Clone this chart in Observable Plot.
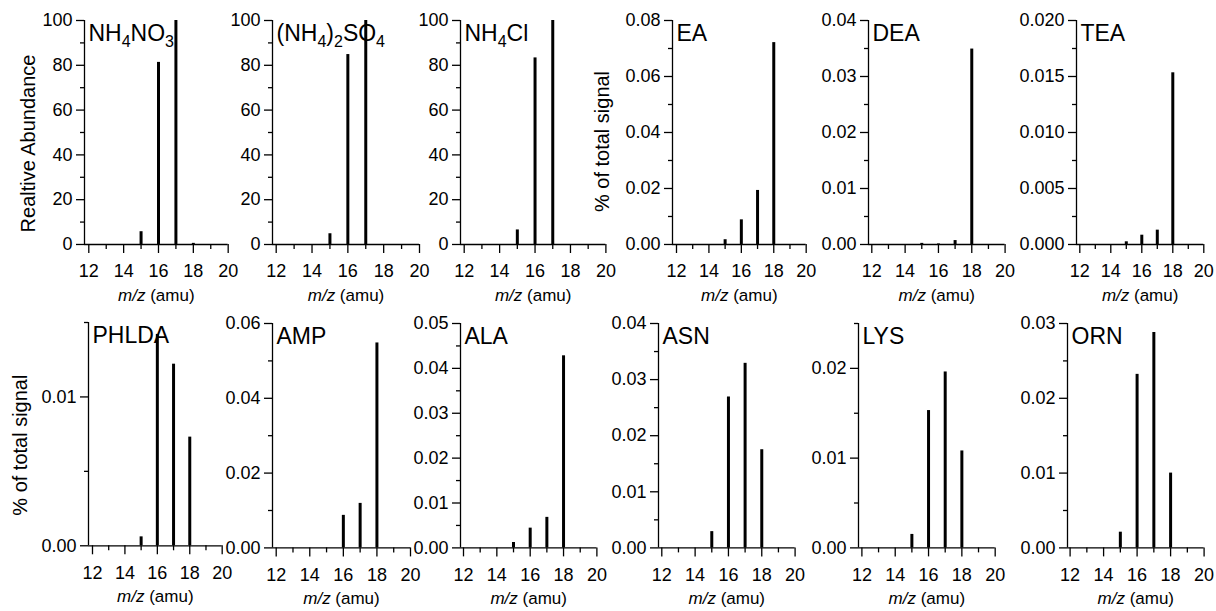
<!DOCTYPE html>
<html><head><meta charset="utf-8">
<script src="https://cdn.jsdelivr.net/npm/d3@7"></script>
<script src="https://cdn.jsdelivr.net/npm/@observablehq/plot@0.6"></script>
<style>
html,body{margin:0;padding:0;background:#fff;}
#chart{position:relative;width:1216px;height:611px;overflow:hidden;font-family:"Liberation Sans",Arial,sans-serif;}
#chart svg{position:absolute;}
</style></head><body><div id="chart"></div>
<script>
// ---- data ----
const mz = [15, 16, 17, 18];
const xTicks = [12, 14, 16, 18, 20];
const xMinorTicks = [13, 15, 17, 19];

const nh4no3 = [5.7, 81.3, 100, 0.5];
const nh42so4 = [4.8, 84.8, 100, 0];
const nh4cl = [6.5, 83.3, 100, 0];
const ea = [0.0017, 0.0088, 0.0193, 0.0721];
const dea = [0.0002, 0.0001, 0.0007, 0.0349];
const tea = [0.00024, 0.00083, 0.00128, 0.01533];
const phlda = [0.0006, 0.0142, 0.0122, 0.0073];
const amp = [0, 0.0087, 0.0119, 0.0548];
const ala = [0.0012, 0.0044, 0.0068, 0.0428];
const asn = [0.0029, 0.0269, 0.0329, 0.0175];
const lys = [0.0015, 0.0153, 0.0196, 0.0108];
const orn = [0.0021, 0.0232, 0.0288, 0.0100];

const titles = ["NH_4NO_3", "(NH_4)_2SO_4", "NH_4Cl", "EA", "DEA", "TEA",
                "PHLDA", "AMP", "ALA", "ASN", "LYS", "ORN"];
const seriesList = [nh4no3, nh42so4, nh4cl, ea, dea, tea, phlda, amp, ala, asn, lys, orn];
const yMax = [100, 100, 100, 0.08, 0.04, 0.02, 0.015, 0.06, 0.05, 0.04, 0.025, 0.03];
const yMajorTicks = [
  [0, 20, 40, 60, 80, 100], [0, 20, 40, 60, 80, 100], [0, 20, 40, 60, 80, 100],
  [0, 0.02, 0.04, 0.06, 0.08], [0, 0.01, 0.02, 0.03, 0.04], [0, 0.005, 0.01, 0.015, 0.02],
  [0, 0.01], [0, 0.02, 0.04, 0.06], [0, 0.01, 0.02, 0.03, 0.04, 0.05],
  [0, 0.01, 0.02, 0.03, 0.04], [0, 0.01, 0.02], [0, 0.01, 0.02, 0.03]
];
const yMinorTicks = [
  [10, 30, 50, 70, 90], [10, 30, 50, 70, 90], [10, 30, 50, 70, 90],
  [0.01, 0.03, 0.05, 0.07], [0.005, 0.015, 0.025, 0.035], [0.0025, 0.0075, 0.0125, 0.0175],
  [0.005, 0.015], [0.01, 0.03, 0.05], [0.005, 0.015, 0.025, 0.035, 0.045],
  [0.005, 0.015, 0.025, 0.035], [0.005, 0.015, 0.025], [0.005, 0.015, 0.025]
];
const yDecimals = [0, 0, 0, 2, 2, 3, 2, 2, 2, 2, 2, 2];
const yTitles = ["Realtive Abundance", null, null, "% of total signal", null, null,
                 "% of total signal", null, null, null, null, null];
const xTitle = "*m/z* (amu)";

// ---- layout (pixel positions of each panel frame) ----
const layout = [
  {axisX: 84, x12: 88.3, x20: 227.7, top: 20, bottom: 244},
  {axisX: 272, x12: 275.7, x20: 419, top: 20, bottom: 244},
  {axisX: 460.3, x12: 464, x20: 605.7, top: 20, bottom: 244},
  {axisX: 672, x12: 676, x20: 805.7, top: 20, bottom: 244},
  {axisX: 867.7, x12: 871, x20: 1004.3, top: 20, bottom: 244},
  {axisX: 1076, x12: 1079.3, x20: 1203.3, top: 20, bottom: 244},
  {axisX: 88, x12: 92, x20: 221.7, top: 321.7, bottom: 545},
  {axisX: 272, x12: 275.7, x20: 410, top: 323.3, bottom: 547.7},
  {axisX: 460.3, x12: 463.3, x20: 596.7, top: 323.3, bottom: 547.7},
  {axisX: 657.7, x12: 661, x20: 794.3, top: 323.3, bottom: 547.7},
  {axisX: 858.3, x12: 861.7, x20: 995, top: 323.3, bottom: 547.7},
  {axisX: 1066.7, x12: 1069.3, x20: 1203.3, top: 323.3, bottom: 547.7}
];
const yTitleOffset = [{dx: -56, dy: 11}, null, null, {dx: -70, dy: 9}, null, null,
                      {dx: -68, dy: 11}, null, null, null, null, null];

const ML = 80, MR = 12, MT = 10, MB = 70;
const FONT = "'Liberation Sans', Arial, Helvetica, sans-serif";

function richText(textEl, subSize, shift) {
  const s = textEl.textContent;
  const ns = "http://www.w3.org/2000/svg";
  while (textEl.firstChild) textEl.removeChild(textEl.firstChild);
  let i = 0, italic = false, pendingDy = 0;
  let buf = "";
  const flush = () => {
    if (!buf) return;
    const t = document.createElementNS(ns, "tspan");
    t.textContent = buf;
    if (italic) t.setAttribute("font-style", "italic");
    if (pendingDy) { t.setAttribute("dy", pendingDy); pendingDy = 0; }
    textEl.appendChild(t);
    buf = "";
  };
  while (i < s.length) {
    const c = s[i];
    if (c === "*") { flush(); italic = !italic; i++; continue; }
    if (c === "_") {
      flush();
      const t = document.createElementNS(ns, "tspan");
      t.textContent = s[i + 1];
      t.setAttribute("font-size", subSize);
      t.setAttribute("dy", shift + pendingDy);
      textEl.appendChild(t);
      pendingDy = -shift;
      i += 2;
      continue;
    }
    buf += c; i++;
  }
  flush();
}

const chart = document.getElementById("chart");

seriesList.forEach((vals, k) => {
  const L = layout[k];
  const pxPerUnit = (L.x20 - L.x12) / 8;
  const xMin = 12 - (L.x12 - L.axisX) / pxPerUnit;
  const plotW = L.x20 - L.axisX;
  const plotH = L.bottom - L.top;
  const data = mz.map((m, i) => ({mz: m, v: vals[i]})).filter(d => d.v > 0);
  const dec = yDecimals[k];
  const marks = [
    Plot.ruleX(data, {x: "mz", y: "v", stroke: "black", strokeWidth: 3}),
    Plot.ruleY([0], {stroke: "black", strokeWidth: 1.3}),
    Plot.ruleX([xMin], {stroke: "black", strokeWidth: 1.3}),
    Plot.axisX({ticks: xTicks, tickSize: 9, tickPadding: 11, tickFormat: d => String(d), label: null, fontSize: 18, strokeWidth: 1.3}),
    Plot.axisX({ticks: xMinorTicks, tickSize: 5, tickFormat: () => "", label: null, strokeWidth: 1.3}),
    Plot.axisY({ticks: yMajorTicks[k], tickSize: 8, tickPadding: 4, tickFormat: d => d.toFixed(dec), label: null, fontSize: 18, strokeWidth: 1.3}),
    Plot.axisY({ticks: yMinorTicks[k], tickSize: 4, tickFormat: () => "", label: null, strokeWidth: 1.3}),
    Plot.text([titles[k]], {frameAnchor: "top-left", dx: 4, dy: 4, fontSize: 23, textAnchor: "start", lineAnchor: "top", fill: "black"}),
    Plot.text([xTitle], {frameAnchor: "bottom", dy: 51, fontSize: 17, textAnchor: "middle", lineAnchor: "middle", fill: "black"})
  ];
  if (yTitles[k]) {
    const o = yTitleOffset[k];
    marks.push(Plot.text([yTitles[k]], {frameAnchor: "left", rotate: -90, dx: o.dx, dy: o.dy, fontSize: 20, textAnchor: "middle", lineAnchor: "middle", fill: "black"}));
  }
  const svg = Plot.plot({
    width: ML + plotW + MR,
    height: MT + plotH + MB,
    marginLeft: ML, marginRight: MR, marginTop: MT, marginBottom: MB,
    x: {domain: [xMin, 20]},
    y: {domain: [0, yMax[k]]},
    style: {background: "none", overflow: "visible", fontFamily: FONT, fontSize: "18px", color: "black"},
    marks
  });
  svg.style.left = (L.axisX - ML) + "px";
  svg.style.top = (L.top - MT) + "px";
  svg.querySelectorAll('g[aria-label="text"] text').forEach(t => {
    const s = t.textContent;
    if (s.includes("_")) richText(t, 16, 6);
    else if (s.includes("*")) richText(t, 16, 0);
  });
  chart.appendChild(svg);
});
</script></body></html>
